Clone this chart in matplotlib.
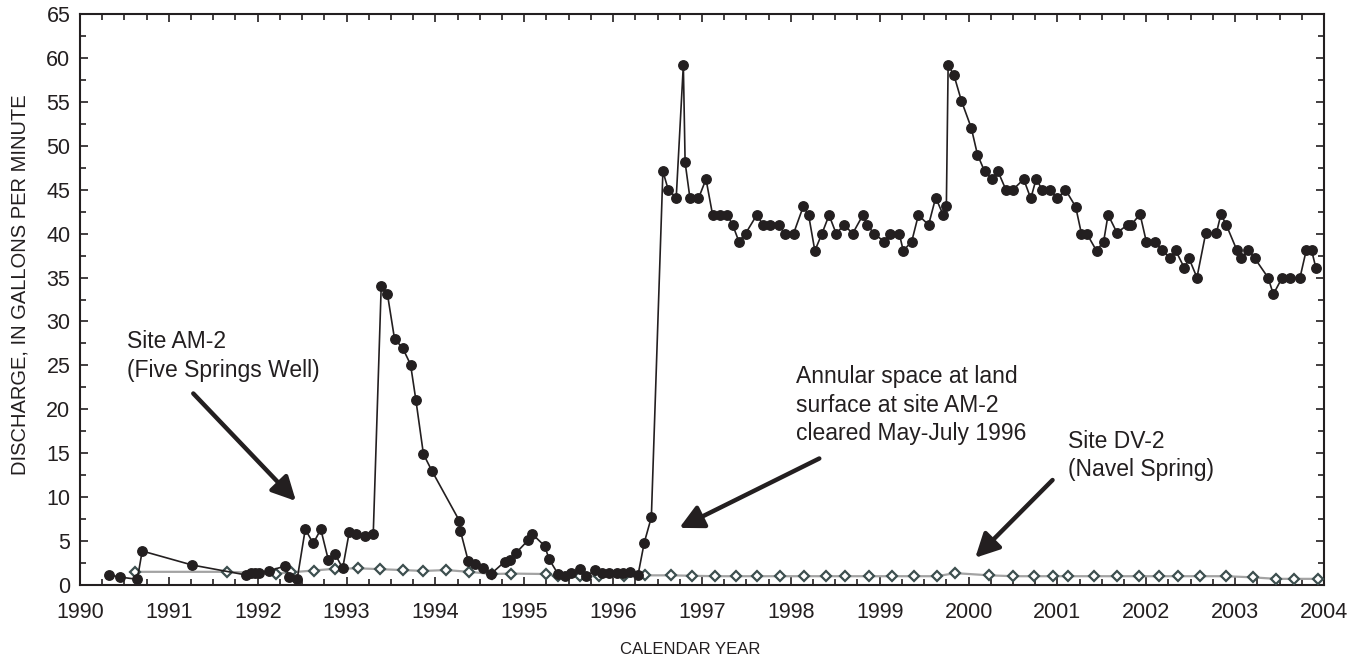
import matplotlib
matplotlib.use("Agg")
import matplotlib.pyplot as plt
from matplotlib.ticker import MultipleLocator

plt.rcParams['font.family'] = ['Liberation Sans', 'DejaVu Sans']

# ---- Data: Site AM-2 (Five Springs Well) ----
am2_year = [1990.33, 1990.45, 1990.645, 1990.70, 1991.26, 1991.865, 1991.93, 1991.97,
            1992.02, 1992.13, 1992.31, 1992.355, 1992.445, 1992.535, 1992.625, 1992.71,
            1992.795, 1992.87, 1992.956, 1993.03, 1993.11, 1993.21, 1993.30, 1993.39,
            1993.46, 1993.54, 1993.63, 1993.72, 1993.78, 1993.865, 1993.96, 1994.27,
            1994.28, 1994.37, 1994.445, 1994.54, 1994.63, 1994.78, 1994.84, 1994.91,
            1995.045, 1995.09, 1995.23, 1995.28, 1995.38, 1995.46, 1995.53, 1995.63,
            1995.70, 1995.80, 1995.87, 1995.95, 1996.04, 1996.11, 1996.19, 1996.28,
            1996.35, 1996.43, 1996.56, 1996.62, 1996.71, 1996.79, 1996.81, 1996.865,
            1996.96, 1997.045, 1997.12, 1997.20, 1997.285, 1997.345, 1997.415, 1997.49,
            1997.615, 1997.69, 1997.77, 1997.865, 1997.93, 1998.03, 1998.14, 1998.20,
            1998.27, 1998.35, 1998.43, 1998.51, 1998.60, 1998.695, 1998.81, 1998.86,
            1998.935, 1999.05, 1999.12, 1999.22, 1999.265, 1999.36, 1999.435, 1999.55,
            1999.63, 1999.715, 1999.75, 1999.77, 1999.835, 1999.92, 2000.03, 2000.10,
            2000.18, 2000.26, 2000.33, 2000.42, 2000.50, 2000.62, 2000.70, 2000.76,
            2000.83, 2000.92, 2001.00, 2001.09, 2001.205, 2001.27, 2001.33, 2001.44,
            2001.52, 2001.57, 2001.67, 2001.79, 2001.83, 2001.93, 2002.00, 2002.10,
            2002.18, 2002.27, 2002.33, 2002.43, 2002.48, 2002.57, 2002.67, 2002.79,
            2002.84, 2002.90, 2003.02, 2003.07, 2003.15, 2003.22, 2003.37, 2003.43,
            2003.53, 2003.62, 2003.73, 2003.80, 2003.86, 2003.91]
am2_gpm = [1.15, 0.9, 0.65, 3.87, 2.28, 1.15, 1.4, 1.4,
           1.4, 1.63, 2.16, 0.95, 0.72, 6.34, 4.74, 6.34,
           2.85, 3.53, 1.9, 6.0, 5.8, 5.55, 5.75, 34.07,
           33.1, 28.0, 27.0, 25.1, 21.06, 14.9, 13.0, 7.3,
           6.2, 2.7, 2.4, 1.95, 1.3, 2.66, 2.85, 3.68,
           5.12, 5.8, 4.44, 2.92, 1.25, 1.0, 1.33, 1.79,
           1.0, 1.7, 1.33, 1.4, 1.4, 1.33, 1.5, 1.14,
           4.82, 7.7, 47.1, 45.0, 44.1, 59.2, 48.1, 44.0,
           44.0, 46.2, 42.1, 42.1, 42.1, 41.0, 39.1, 40.0,
           42.1, 41.0, 41.0, 41.0, 40.0, 40.0, 43.1, 42.1,
           38.05, 40.0, 42.1, 40.0, 41.0, 40.0, 42.1, 41.0,
           40.0, 39.1, 40.0, 40.0, 38.05, 39.1, 42.1, 41.0,
           44.1, 42.1, 43.1, 59.2, 58.05, 55.1, 52.05, 49.0,
           47.1, 46.2, 47.1, 45.0, 45.0, 46.2, 44.0, 46.2,
           45.0, 45.0, 44.0, 45.0, 43.06, 40.0, 40.0, 38.05,
           39.1, 42.15, 40.1, 41.0, 41.0, 42.2, 39.1, 39.1,
           38.1, 37.2, 38.1, 36.05, 37.2, 35.0, 40.1, 40.1,
           42.2, 41.0, 38.1, 37.2, 38.1, 37.2, 35.0, 33.1,
           35.0, 35.0, 35.0, 38.1, 38.1, 36.05]

# ---- Data: Site DV-2 (Navel Spring) ----
dv2_year = [1990.62, 1991.65, 1992.21, 1992.38, 1992.63, 1992.87, 1993.13, 1993.38,
            1993.63, 1993.865, 1994.12, 1994.38, 1994.64, 1994.85, 1995.24, 1995.38,
            1995.63, 1995.84, 1996.12, 1996.36, 1996.65, 1996.89, 1997.15, 1997.38,
            1997.62, 1997.875, 1998.15, 1998.40, 1998.605, 1998.88, 1999.14, 1999.39,
            1999.64, 1999.85, 2000.235, 2000.50, 2000.74, 2000.95, 2001.12, 2001.41,
            2001.67, 2001.92, 2002.14, 2002.36, 2002.60, 2002.90, 2003.20, 2003.46,
            2003.66, 2003.935]
dv2_gpm = [1.5, 1.5, 1.3, 1.45, 1.65, 1.85, 1.9, 1.8,
           1.7, 1.6, 1.7, 1.5, 1.25, 1.3, 1.25, 1.0,
           1.0, 1.0, 1.0, 1.1, 1.1, 1.05, 1.0, 1.0,
           1.0, 1.0, 1.0, 1.0, 1.0, 1.0, 1.0, 1.0,
           1.0, 1.35, 1.1, 1.0, 1.0, 1.0, 1.0, 1.0,
           1.0, 1.0, 1.0, 1.0, 1.0, 1.0, 0.87, 0.7,
           0.7, 0.7]

x_ticks = list(range(1990, 2005))
y_ticks = list(range(0, 70, 5))

dark = '#231f20'

fig = plt.figure(figsize=(13.51, 6.65), dpi=100)
ax = fig.add_axes([80/1351, 80/665, (1324-80)/1351, (585-14)/665])

ax.plot(dv2_year, dv2_gpm, color='#a3a3a3', lw=1.6, marker='D', markersize=5.0,
        markerfacecolor='white', markeredgecolor='#3d4f4f', markeredgewidth=1.6, zorder=3)
ax.plot(am2_year, am2_gpm, color=dark, lw=1.2, marker='o', markersize=6.8,
        markerfacecolor=dark, markeredgecolor=dark, zorder=4)

ax.set_xlim(1990, 2004)
ax.set_ylim(0, 65)
ax.set_xticks(x_ticks)
ax.set_yticks(y_ticks)
ax.xaxis.set_minor_locator(MultipleLocator(0.25))
ax.yaxis.set_minor_locator(MultipleLocator(2.5))
ax.tick_params(which='both', direction='in', top=True, right=True, color=dark, width=1.2)
ax.tick_params(which='major', length=6)
ax.tick_params(which='minor', length=4)
ax.tick_params(axis='x', which='major', labelsize=15.5, pad=12.5, labelcolor=dark)
ax.tick_params(axis='y', which='major', labelsize=15.5, pad=7, labelcolor=dark)
for s in ax.spines.values():
    s.set_linewidth(1.5)
    s.set_color(dark)

fig.text(20/1351, 1 - 285/665, 'DISCHARGE, IN GALLONS PER MINUTE', rotation=90,
         ha='center', va='center', fontsize=14.5, color=dark)
fig.text(690/1351, 1 - 650/665, 'CALENDAR YEAR', ha='center', va='center',
         fontsize=12, color=dark)

fs = 16.5
ax.text(1990.527, 26.94, 'Site AM-2', fontsize=fs, color=dark, va='baseline')
ax.text(1990.527, 23.71, '(Five Springs Well)', fontsize=fs, color=dark, va='baseline')
ax.text(1998.061, 22.96, 'Annular space at land', fontsize=fs, color=dark, va='baseline')
ax.text(1998.061, 19.73, 'surface at site AM-2', fontsize=fs, color=dark, va='baseline')
ax.text(1998.061, 16.51, 'cleared May-July 1996', fontsize=fs, color=dark, va='baseline')
ax.text(2001.117, 15.63, 'Site DV-2', fontsize=fs, color=dark, va='baseline')
ax.text(2001.117, 12.41, '(Navel Spring)', fontsize=fs, color=dark, va='baseline')

aprops = dict(arrowstyle='-|>,head_length=0.55,head_width=0.28', lw=3.2,
              color=dark, mutation_scale=26, shrinkA=0, shrinkB=0)
ax.annotate('', xy=(1992.43, 9.56), xytext=(1991.275, 21.8), arrowprops=aprops)
ax.annotate('', xy=(1996.745, 6.5), xytext=(1998.32, 14.4), arrowprops=aprops)
ax.annotate('', xy=(2000.075, 3.1), xytext=(2000.945, 11.95), arrowprops=aprops)

fig.savefig('out.png', dpi=100)
